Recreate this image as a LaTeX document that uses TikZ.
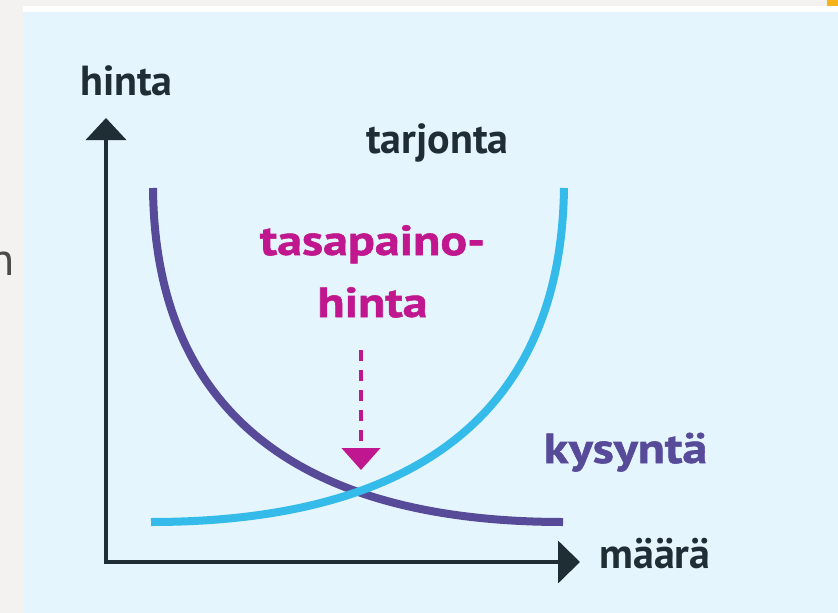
\documentclass[tikz,border=0pt]{standalone}
\usepackage{fontspec}
\setmainfont{PT Sans}
\newfontfamily\widefont{PT Sans}[FakeStretch=1.19, FakeBold=1.3]
\usetikzlibrary{arrows.meta}
\definecolor{pagegray}{HTML}{F3F2F0}
\definecolor{panelblue}{HTML}{E5F5FD}
\definecolor{accentorange}{HTML}{F6B21B}
\definecolor{darktext}{HTML}{1F2D35}
\definecolor{demandpurple}{HTML}{574B99}
\definecolor{supplycyan}{HTML}{35BBEA}
\definecolor{eqmagenta}{HTML}{C0178F}
\definecolor{edgegray}{HTML}{4A4A4A}
\tikzset{
  lbl/.style={font=\fontsize{42}{50}\selectfont\bfseries, inner sep=0pt, anchor=base},
  widelbl/.style={font=\widefont\fontsize{42}{50}\selectfont\bfseries, inner sep=0pt, anchor=base},
  axisline/.style={draw=darktext, line width=4pt, line join=miter},
  curve/.style={line width=8pt, line cap=butt},
}
\begin{document}
\begin{tikzpicture}[x=1pt,y=-1pt]
\useasboundingbox (0,0) rectangle (838,613);
% background
\fill[pagegray] (0,0) rectangle (838,613);
\fill[white] (23,6) rectangle (838,12);
\fill[accentorange] (827,0) rectangle (838,6);
\fill[panelblue] (23,12) rectangle (838,613);
\begin{scope}
\clip (0,0) rectangle (23,613);
\node[font=\fontsize{46}{50}\selectfont, text=edgegray, inner sep=0pt, anchor=base east] (edgen) at (15,275) {n};
\end{scope}
% axes
\coordinate (O) at (106,562);
\coordinate (ytip) at (106,118);
\coordinate (xtip) at (580,562);
\draw[axisline, {Triangle[length=22pt,width=40pt]}-{Triangle[length=22pt,width=42pt]}] (ytip) -- (O) -- (xtip);
% curves
\coordinate (dA) at (153,188);
\coordinate (dB) at (563,522);
\coordinate (sA) at (151,522);
\coordinate (sB) at (564,188);
\draw[curve, demandpurple] (dA) .. controls (155,420) and (310,522) .. (dB);
\draw[curve, supplycyan] (sA) .. controls (406,522) and (561,420) .. (sB);
% labels
\node[lbl, text=darktext] (hinta) at (126.5,95) {hinta};
\node[lbl, text=darktext] (maara) at (655,568) {määrä};
\node[lbl, text=darktext] (tarjonta) at (437.5,153) {tarjonta};
\node[widelbl, text=demandpurple] (kysynta) at (625.5,463) {kysyntä};
\node[widelbl, text=eqmagenta] (tasa) at (372.5,255) {tasapaino-};
\node[widelbl, text=eqmagenta] (hinta2) at (372.5,317) {hinta};
% dashed arrow
\coordinate (arrS) at (361,350);
\coordinate (arrE) at (361,470);
\draw[eqmagenta, line width=4.5pt, dash pattern=on 11pt off 9pt, -{Triangle[length=22pt,width=38pt]}] (arrS) -- (arrE);
\end{tikzpicture}
\end{document}
